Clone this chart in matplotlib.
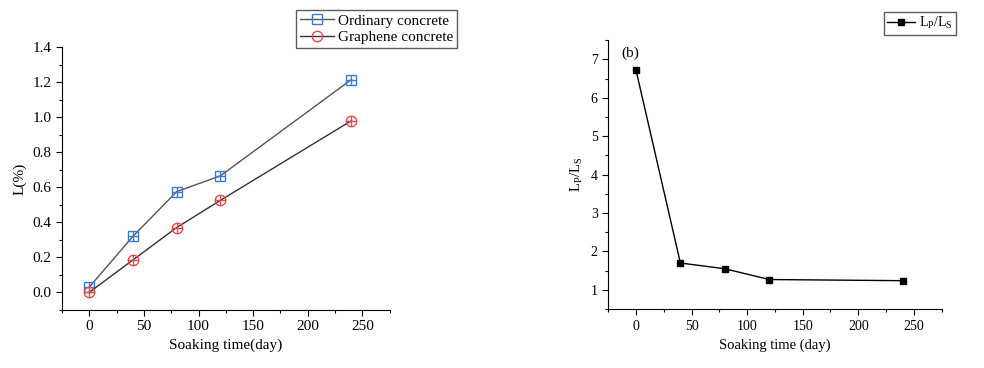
import matplotlib.pyplot as plt
import numpy as np

plt.rcParams['font.family'] = 'Liberation Serif'
plt.rcParams['mathtext.fontset'] = 'stix'

days = [0, 40, 80, 120, 240]
ordinary = [0.03, 0.32, 0.575, 0.665, 1.215]
graphene = [0.0, 0.185, 0.37, 0.525, 0.98]
ratio = [6.73, 1.70, 1.55, 1.27, 1.24]

fig = plt.figure(figsize=(9.84, 3.68), dpi=100)

# (a) length change
ax1 = fig.add_axes([0.063, 0.158, 0.333, 0.714])
l1, = ax1.plot(days, ordinary, color='#555555', lw=1, marker='s', ms=6.5,
               mfc='none', mec='#3a7bd5', mew=1, label='Ordinary concrete')
ax1.plot(days, ordinary, ls='none', marker='+', ms=6.5, mec='#3a7bd5', mew=1)
l2, = ax1.plot(days, graphene, color='#333333', lw=1, marker='o', ms=7.5,
               mfc='none', mec='#e84a4a', mew=1, label='Graphene concrete')
ax1.plot(days, graphene, ls='none', marker='+', ms=7.5, mec='#e84a4a', mew=1)
ax1.set_xlim(-25, 275)
ax1.set_ylim(-0.1, 1.4)
ax1.set_xticks([0, 50, 100, 150, 200, 250])
ax1.set_xticks(np.arange(-25, 276, 25), minor=True)
ax1.set_yticks(np.arange(0, 1.41, 0.2))
ax1.set_yticks(np.arange(-0.1, 1.41, 0.1), minor=True)
ax1.yaxis.set_major_formatter(plt.FormatStrFormatter('%.1f'))
ax1.set_xlabel('Soaking time(day)', fontsize=11)
ax1.set_ylabel('L(%)', fontsize=11)
ax1.tick_params(labelsize=11, length=4, width=0.8)
ax1.tick_params(which='minor', length=2, width=0.8)
for s in ['top', 'right']:
    ax1.spines[s].set_visible(False)
ax1.legend(handles=[l1, l2], loc='upper left', bbox_to_anchor=(0.715, 1.141),
           fontsize=11, frameon=True, fancybox=False, edgecolor='#333333',
           handlelength=2.2, handletextpad=0.3, borderpad=0.25, labelspacing=0.2,
           borderaxespad=0)

# (b) ratio
ax2 = fig.add_axes([0.618, 0.160, 0.339, 0.731])
l3, = ax2.plot(days, ratio, color='black', lw=1, marker='s', ms=4.5,
               label='$\\mathregular{L_P/L_S}$')
ax2.set_xlim(-25, 275)
ax2.set_ylim(0.5, 7.5)
ax2.set_xticks([0, 50, 100, 150, 200, 250])
ax2.set_xticks(np.arange(-25, 276, 25), minor=True)
ax2.set_yticks(np.arange(1, 8, 1))
ax2.set_yticks(np.arange(0.5, 7.6, 0.5), minor=True)
ax2.set_xlabel('Soaking time (day)', fontsize=10.5)
ax2.set_ylabel('$\\mathregular{L_P/L_S}$', fontsize=10.5)
ax2.tick_params(labelsize=10, length=4, width=0.8)
ax2.tick_params(which='minor', length=2, width=0.8)
for s in ['top', 'right']:
    ax2.spines[s].set_visible(False)
ax2.text(0.04, 0.975, '(b)', transform=ax2.transAxes, fontsize=11, va='top')
ax2.legend(handles=[l3], loc='upper left', bbox_to_anchor=(0.826, 1.105),
           fontsize=10, frameon=True, fancybox=False, edgecolor='#333333',
           handlelength=2.0, handletextpad=0.3, borderpad=0.25, borderaxespad=0)

fig.savefig('out.png', dpi=100)
